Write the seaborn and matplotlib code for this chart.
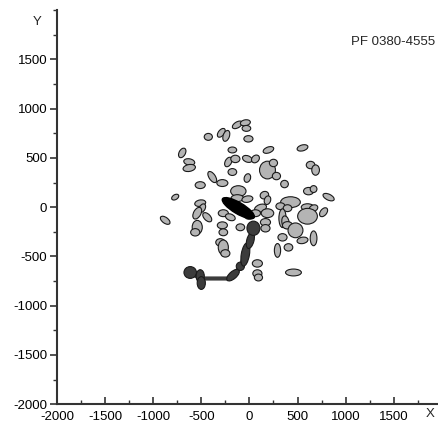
import matplotlib
matplotlib.use('Agg')
import matplotlib.pyplot as plt
from matplotlib.patches import Ellipse
from matplotlib.ticker import MultipleLocator
import seaborn as sns

# grey fragments: centre, size (data units) and tilt in degrees
frag_x = [-125, -42, -31, -427, -292, -240, -10, -698, -625, -625, -177, -219, -146, -21, 63,
          198, 552, 188, 250, 281, 636, 688, -386, -281, -177, -21, -511, 365, -115, -125,
          -21, 156, 188, 615, 667, 823, -771, -511, -490, 115, 427, 323, 396, 604, 667,
          604, 771, -875, -542, -438, -271, -198, 10, 63, 188, 167, 344, 375, -542, -563,
          -281, -271, -94, 167, 396, 479, 344, 406, 552, 667, -302, -271, -250, 292, 83,
          83, 94, 458]
frag_y = [836, 857, 800, 714, 755, 724, 694, 551, 459, 398, 581, 459, 490, 490, 490,
          581, 602, 377, 449, 316, 428, 377, 306, 245, 357, 296, 224, 235, 163, 92,
          82, 122, 71, 163, 184, 102, 102, 41, -10, -10, 51, 10, -10, 0, -10,
          -92, -51, -133, -61, -102, -61, -102, -82, -61, -61, -153, -112, -153, -204, -255,
          -184, -255, -204, -214, -184, -235, -306, -408, -337, -316, -357, -408, -469, -439, -571,
          -673, -714, -663]
frag_w = [115, 105, 90, 85, 105, 115, 95, 105, 115, 130, 90, 105, 95, 105, 90,
          115, 115, 165, 85, 85, 90, 80, 130, 115, 90, 90, 105, 80, 160, 130,
          115, 90, 90, 105, 70, 125, 80, 115, 95, 130, 205, 95, 90, 130, 90,
          205, 105, 115, 130, 115, 105, 105, 115, 105, 130, 105, 75, 75, 105, 95,
          105, 90, 90, 95, 105, 155, 95, 90, 115, 70, 95, 105, 95, 65, 105,
          95, 85, 165]
frag_h = [60, 60, 60, 70, 60, 65, 65, 65, 65, 70, 60, 65, 75, 65, 70,
          60, 60, 180, 75, 75, 75, 105, 65, 70, 70, 65, 70, 75, 110, 70,
          65, 75, 65, 75, 70, 60, 50, 65, 60, 75, 110, 70, 70, 70, 65,
          160, 65, 60, 75, 65, 70, 65, 75, 70, 90, 75, 190, 130, 140, 75,
          70, 70, 70, 75, 75, 150, 75, 75, 65, 150, 75, 150, 75, 140, 75,
          75, 70, 70]
frag_ang = [30, 10, 0, 0, 50, 70, 0, 60, -10, 10, 0, 60, 0, -20, 40,
            20, 15, 0, 0, 0, 0, 0, -55, 0, 0, 70, 0, 0, 0, 0,
            10, 20, 70, 0, 0, -25, 30, 10, 60, 20, 0, 0, 0, 0, 20,
            0, 50, -35, 60, -45, 0, -20, 20, 0, 0, 0, 0, 10, 0, 0,
            0, 0, 0, 0, 0, 0, 0, 0, 10, 0, 0, 0, 0, 0, 0,
            0, 0, 0]

# dark trail
trail_x = [-615, -511, -219, -94, -42, 10, 42]
trail_y = [-663, -724, -724, -612, -469, -337, -214]
knot_x = [-615, -511, -500, -170, -94, -42, 10, 42]
knot_y = [-663, -700, -770, -690, -600, -480, -337, -214]
knot_w = [130, 85, 85, 75, 85, 85, 75, 135]
knot_h = [120, 130, 130, 160, 85, 240, 170, 145]
knot_ang = [0, 0, 0, -50, 0, -10, -15, 0]

# black central blob
blob = (-115, -10, 380, 115, -30)

sns.set_style("ticks")
plt.rcParams['font.family'] = ['Liberation Sans', 'DejaVu Sans']
plt.rcParams['axes.unicode_minus'] = False

fig = plt.figure(figsize=(4.38, 4.25), dpi=100)
ax = fig.add_axes([0.130, 0.049, 0.870, 0.927])

sns.lineplot(x=trail_x, y=trail_y, sort=False, color='#3c3c3c', linewidth=3.0, ax=ax, zorder=2)

for x, y, w, h, a in zip(frag_x, frag_y, frag_w, frag_h, frag_ang):
    ax.add_patch(Ellipse((x, y), w, h, angle=a, facecolor='#b4b4b4', edgecolor='#1a1a1a', lw=0.8, zorder=3))

for x, y, w, h, a in zip(knot_x, knot_y, knot_w, knot_h, knot_ang):
    ax.add_patch(Ellipse((x, y), w, h, angle=a, facecolor='#3c3c3c', edgecolor='#1a1a1a', lw=0.8, zorder=4))

ax.add_patch(Ellipse(blob[:2], blob[2], blob[3], angle=blob[4], facecolor='black', edgecolor='black', zorder=5))

ax.set_xlim(-2000, 1960)
ax.set_ylim(-2000, 2000)
ax.set_xticks(range(-2000, 2000, 500))
ax.set_yticks(range(-2000, 2000, 500))
ax.xaxis.set_minor_locator(MultipleLocator(250))
ax.yaxis.set_minor_locator(MultipleLocator(250))
ax.tick_params(which='major', length=5, width=1.2, labelsize=9.5, color='#333333', labelcolor='black', pad=2)
ax.tick_params(which='minor', length=3, width=1.0, color='#333333')
ax.tick_params(axis='x', which='both', direction='in', pad=5)
sns.despine(ax=ax)
for s in ['left', 'bottom']:
    ax.spines[s].set_linewidth(1.5)
    ax.spines[s].set_color('#333333')

fig.text(37 / 438, 1 - 22 / 425, 'Y', fontsize=9.5, ha='center', va='center')
fig.text(430 / 438, 1 - 414 / 425, 'X', fontsize=9.5, ha='center', va='center')
fig.text(435 / 438, 1 - 42 / 425, 'PF 0380-4555', fontsize=9.5, ha='right', va='center')

fig.savefig('out.png', dpi=100)
